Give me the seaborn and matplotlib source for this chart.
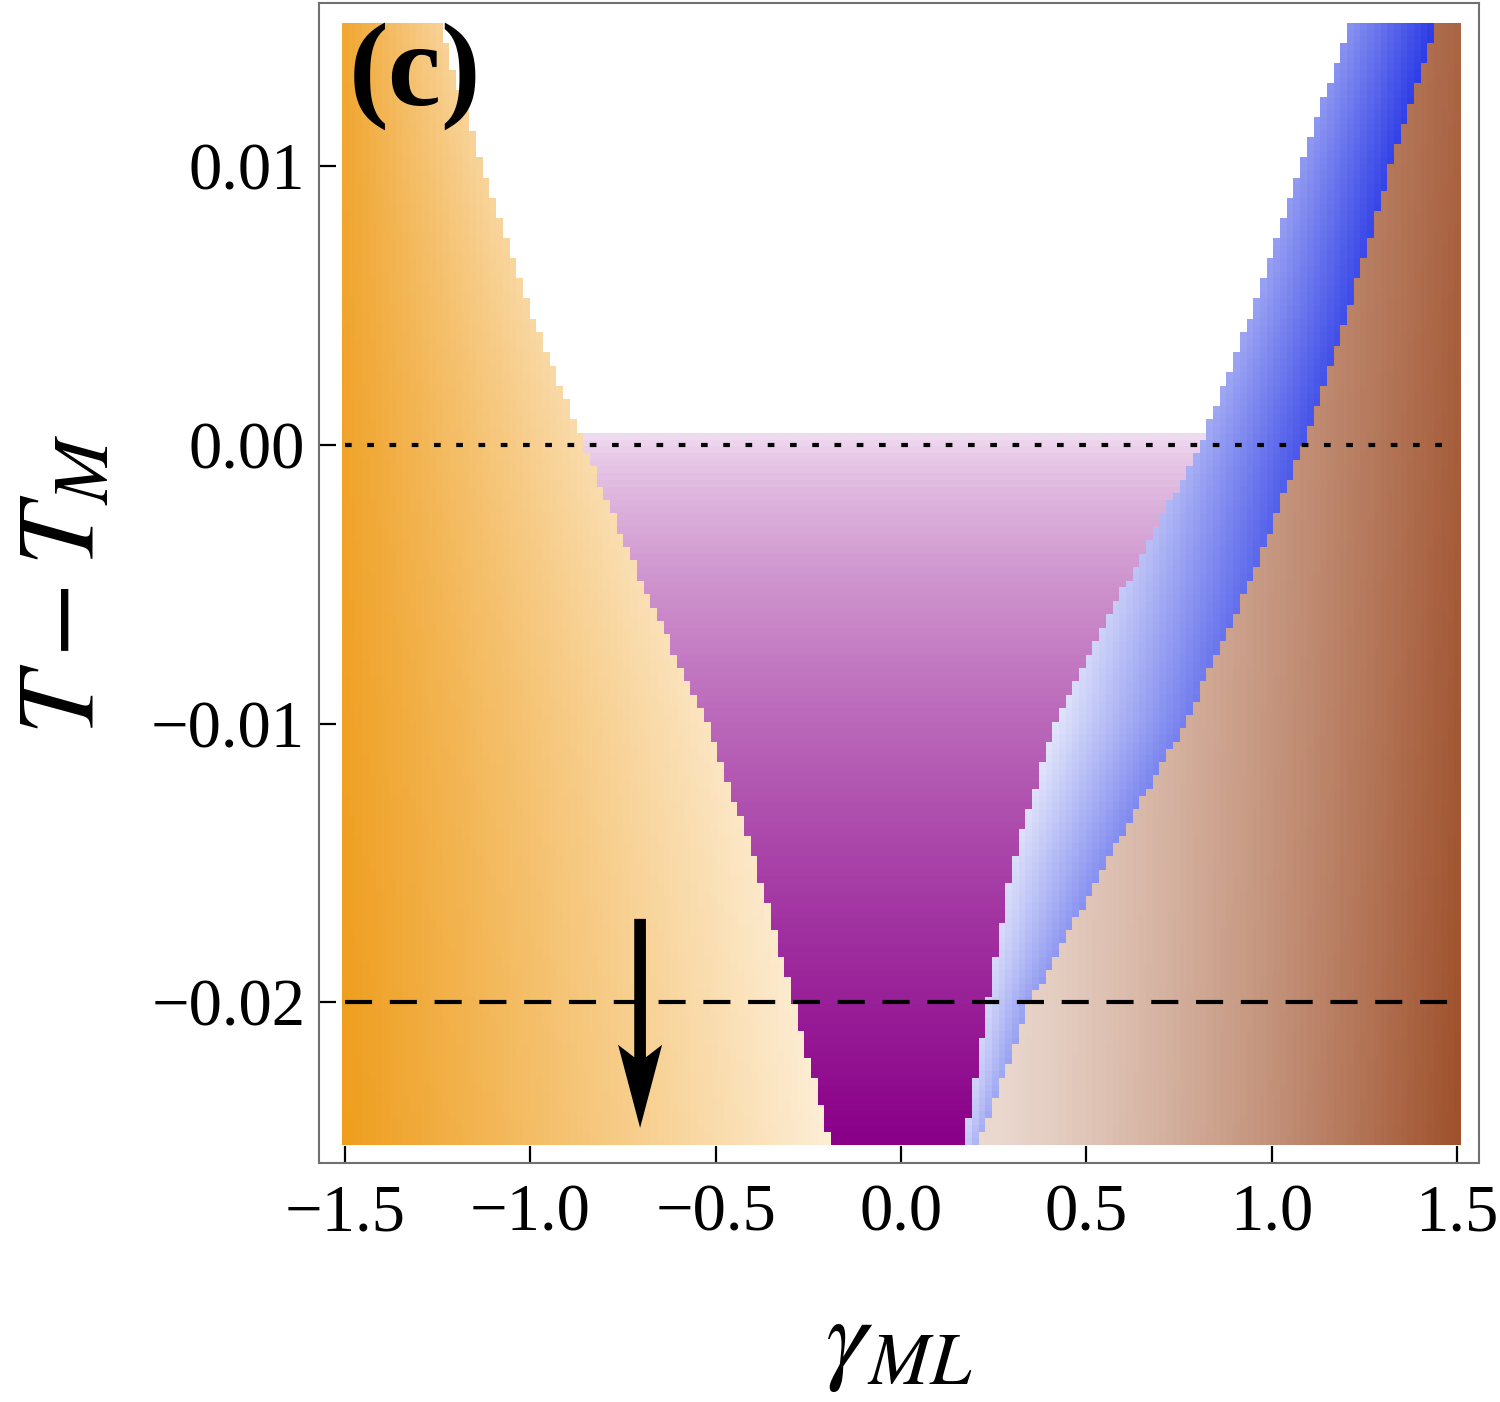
import numpy as np
import matplotlib
matplotlib.use("Agg")
import matplotlib.pyplot as plt
import seaborn as sns
from matplotlib.patches import FancyArrow

# ---------------- data ----------------
T_levels = [-0.025, -0.020, -0.015, -0.010, -0.005, 0.000, 0.005, 0.010, 0.015]
gamma_orange_edge = [-0.190, -0.291, -0.392, -0.524, -0.700, -0.858, -1.005, -1.130, -1.245]
gamma_blue_left = [0.172, 0.232, 0.300, 0.412, 0.605, 0.807, 0.953, 1.076, 1.209]
gamma_blue_right = [0.210, 0.348, 0.552, 0.765, 0.938, 1.085, 1.210, 1.319, 1.444]
T_purple_top = 0.00035
gamma_range = [-1.5, 1.5]
T_range = [-0.025, 0.015]

dotted_T = [0.0, 0.0]
dashed_T = [-0.02, -0.02]
line_gamma = [-1.5, 1.49]

arrow_gamma = -0.704
arrow_T = [-0.01701, -0.02451]

xtick_vals = [-1.5, -1.0, -0.5, 0.0, 0.5, 1.0, 1.5]
xtick_labels = ["\u22121.5", "\u22121.0", "\u22120.5", "0.0", "0.5", "1.0", "1.5"]
ytick_vals = [-0.02, -0.01, 0.0, 0.01]
ytick_labels = ["\u22120.02", "\u22120.01", "0.00", "0.01"]

# ---------------- style ----------------
sns.set_style("white")
plt.rcParams["font.family"] = ["Liberation Serif", "DejaVu Serif"]
plt.rcParams["mathtext.fontset"] = "stix"
plt.rcParams["text.color"] = "black"
plt.rcParams["axes.labelcolor"] = "black"
plt.rcParams["xtick.color"] = "black"
plt.rcParams["ytick.color"] = "black"


def hex2rgb(h):
    h = h.lstrip("#")
    return np.array([int(h[i:i + 2], 16) / 255 for i in (0, 2, 4)])


def mix(c0, c1, v):
    v = np.clip(v, 0, 1)[..., None]
    return hex2rgb(c0) * (1 - v) + hex2rgb(c1) * v


# ---------------- raster of the phase regions ----------------
n_g, n_t = 167, 167
g = np.linspace(gamma_range[0], gamma_range[1], n_g)
t = np.linspace(T_range[0], T_range[1], n_t)
G, TT = np.meshgrid(g, t)
xl = np.interp(TT, T_levels, gamma_orange_edge)
b1 = np.interp(TT, T_levels, gamma_blue_left)
b2 = np.interp(TT, T_levels, gamma_blue_right)
ynorm = (TT - T_range[0]) / (T_range[1] - T_range[0])

rgb = np.ones((n_t, n_g, 3))

orange = G < xl
brown = G >= b2
blue = (G >= b1) & (G < b2)
purple = (G >= xl) & (G < b1) & (TT <= T_purple_top)

# orange
s_o = (G + 1.5) / (xl + 1.5)
t_o = (G + 1.5) / 1.3
v_o = 0.5 * s_o + 0.5 * t_o
v_o = v_o + 0.12 * ynorm * (1 - v_o)
rgb[orange] = mix("#EF9E1E", "#FDEED6", v_o)[orange]

# purple
v_p = np.clip((T_purple_top - TT) / (T_purple_top - T_range[0]), 0, 1) ** 0.7
rgb[purple] = mix("#F1DEF1", "#8A0089", v_p)[purple]

# blue
lo = np.interp(TT, [-0.025, -0.01, 0.0, 0.015], [0.18, 0.06, 0.38, 0.52])
hi = np.interp(TT, [-0.025, -0.01, 0.0, 0.015], [0.38, 0.62, 0.85, 1.0])
s_b = (G - b1) / np.maximum(b2 - b1, 1e-6)
v_b = lo + s_b * (hi - lo)
rgb[blue] = mix("#EEF1FC", "#2A3AE6", v_b)[blue]

# brown
t_br = np.clip((G - 0.18) / 1.32, 0, 1)
v_br = t_br ** 1.3 * (1 - 0.15 * ynorm)
rgb[brown] = mix("#ECDBD2", "#9F512C", v_br)[brown]

# ---------------- figure ----------------
fig = plt.figure(figsize=(15, 14.02), dpi=100)
ax = fig.add_axes([0.2127, 0.1705, 0.7733, 0.8274])

dg = g[1] - g[0]
dt = t[1] - t[0]
ax.imshow(rgb, origin="lower", aspect="auto", interpolation="nearest",
          extent=[g[0] - dg / 2, g[-1] + dg / 2, t[0] - dt / 2, t[-1] + dt / 2],
          zorder=1)

sns.lineplot(x=line_gamma, y=dotted_T, ax=ax, color="black", lw=3,
             linestyle=(0, (1.6, 3.74)), estimator=None, zorder=3)
sns.lineplot(x=line_gamma, y=dashed_T, ax=ax, color="black", lw=3,
             linestyle=(0, (6.5, 4.25)), estimator=None, zorder=3)

arr = FancyArrow(arrow_gamma, arrow_T[0], 0, arrow_T[1] - arrow_T[0],
                 width=0.0315, head_width=0.1187, head_length=0.00298,
                 length_includes_head=True, overhang=0.15,
                 color="black", lw=0, zorder=5)
ax.add_patch(arr)

ax.set_xlim(-1.570, 1.559)
ax.set_ylim(-0.02577, 0.01586)

ax.set_xticks(xtick_vals, xtick_labels)
ax.set_yticks(ytick_vals, ytick_labels)
ax.tick_params(axis="both", direction="in", length=12, width=1.6,
               color="black", labelcolor="black", labelsize=48,
               top=False, right=False, bottom=True, left=True)
ax.tick_params(axis="x", pad=15)
ax.tick_params(axis="y", pad=10)

for sp in ax.spines.values():
    sp.set_color("#707070")
    sp.set_linewidth(1.5)
    sp.set_visible(True)

ax.set_xlabel(r"$\gamma_{ML}$", fontsize=76, va="top", color="black")
ax.xaxis.set_label_coords(0.5, -0.116)
ax.set_ylabel(r"$T - T_M$", fontsize=80, va="center", ha="center",
              color="black")
ax.yaxis.set_label_coords(-0.217, 0.499)

ax.text(0.026, 0.912, "(c)", transform=ax.transAxes, fontsize=86,
        fontweight="bold", va="baseline", ha="left", color="black", zorder=6)

fig.savefig("out.png", dpi=100, facecolor="white")
